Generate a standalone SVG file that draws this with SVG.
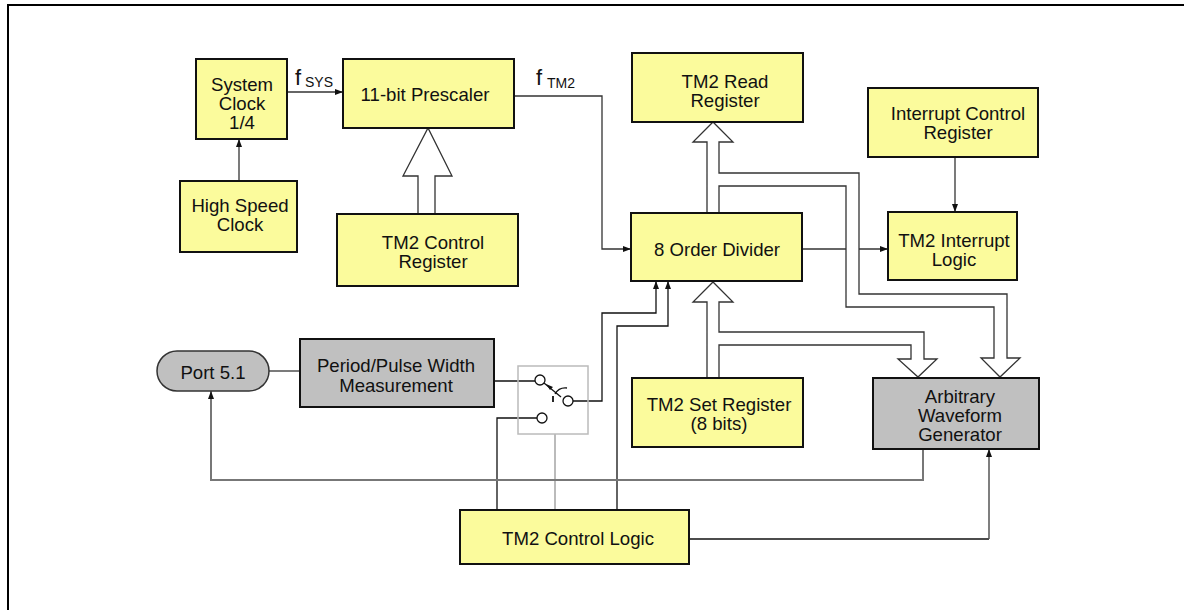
<svg xmlns="http://www.w3.org/2000/svg" width="1184" height="610" viewBox="0 0 1184 610">
<style>
.box{fill:#fbfb9c;stroke:#111;stroke-width:2}
.gbox{fill:#c0c0c0;stroke:#111;stroke-width:2}
.t{font-family:"Liberation Sans",Arial,sans-serif;font-size:18.6px;fill:#111;text-anchor:middle}
.w{fill:none;stroke:#333;stroke-width:1.3}
.k{fill:none;stroke:#111;stroke-width:1.3}
.g{fill:none;stroke:#777;stroke-width:2}
.lg{fill:none;stroke:#bbb;stroke-width:2}
.bus{fill:#fff;stroke:#333;stroke-width:1.3;stroke-linejoin:miter}
.sw{fill:#fff;stroke:#111;stroke-width:1.3}
</style>
<defs>
<marker id="a" markerWidth="9" markerHeight="7" refX="8" refY="3" orient="auto" markerUnits="userSpaceOnUse">
<path d="M0,0 L8,3 L0,6 z" fill="#111"/>
</marker>
</defs>
<rect width="1184" height="610" fill="#fff"/>
<path d="M8,610 L8,5 L1184,5" fill="none" stroke="#000" stroke-width="2"/>

<g id="connectors">
<path class="w" d="M287,92 H343" marker-end="url(#a)"/>
<path class="w" d="M239,181 V139" marker-end="url(#a)"/>
<path class="w" d="M514,96 H602 V249 H631" marker-end="url(#a)"/>
<path class="w" d="M955,157 V212" marker-end="url(#a)"/>
<path class="w" d="M802,249 H888" marker-end="url(#a)"/>
<path class="bus" d="M418,214 V176 H403 L428,128 L452,176 H435 V214"/>
<path class="bus" d="M707,213 V142 H693 L713,122 L733,142 H719 V173 H859 V294 H1007 V358 H1020 L1000,377 L981,358 H994 V307 H846 V186 H719 V213"/>
<path class="bus" d="M707,377 V302 H693 L713,282 L733,302 H719 V332 H924 V359 H937 L918,377 L898,359 H911 V345 H719 V377"/>
<path class="w" d="M269,371 H300"/>
<path class="k" d="M494,381 H535"/>
<path class="k" d="M573,401 H602 V313 H656 V281" marker-end="url(#a)"/>
<path class="k" d="M617,510 V326 H668 V281" marker-end="url(#a)"/>
<path class="k" d="M537,418 H497 V510"/>
<path class="lg" d="M555,434 V510"/>
<path class="g" d="M923,449 V480 H211 V391" marker-end="url(#a)"/>
<path class="k" d="M689,539 H989"/>
<path d="M989,539 V449" fill="none" stroke="#555" stroke-width="1.5" marker-end="url(#a)"/>
</g>

<g id="switch">
<rect x="518" y="366" width="70" height="68" fill="none" stroke="#bbb" stroke-width="1.5"/>
<path class="k" d="M544,383 L561,397"/>
<path d="M546,384 L553,387 L550,390 z" fill="#111"/>
<path class="k" d="M555,394 Q559,387 567,388"/>
<path d="M553,396 L553,402" fill="none" stroke="#111" stroke-width="1.8"/>
<circle class="sw" cx="540" cy="380" r="5"/>
<circle class="sw" cx="568" cy="401" r="5"/>
<circle class="sw" cx="542" cy="418" r="5"/>
</g>

<g id="system-clock">
<rect class="box" x="196" y="59" width="91" height="80"/>
<text class="t" x="242" y="91">System</text>
<text class="t" x="242" y="110">Clock</text>
<text class="t" x="242" y="129">1/4</text>
</g>
<g id="high-speed-clock">
<rect class="box" x="180" y="181" width="117" height="71"/>
<text class="t" x="240" y="212">High Speed</text>
<text class="t" x="240" y="231">Clock</text>
</g>
<g id="fsys-label">
<text font-family="Liberation Sans,Arial,sans-serif" font-size="22" x="295" y="85" fill="#111">f</text>
<text font-family="Liberation Sans,Arial,sans-serif" font-size="14" x="305" y="87" fill="#111">SYS</text>
</g>
<g id="ftm2-label">
<text font-family="Liberation Sans,Arial,sans-serif" font-size="22" x="536" y="85" fill="#111">f</text>
<text font-family="Liberation Sans,Arial,sans-serif" font-size="14" x="547" y="88" fill="#111">TM2</text>
</g>
<g id="prescaler">
<rect class="box" x="343" y="59" width="171" height="69"/>
<text class="t" x="425" y="101">11-bit Prescaler</text>
</g>
<g id="tm2-control-register">
<rect class="box" x="337" y="214" width="181" height="72"/>
<text class="t" x="433" y="249">TM2 Control</text>
<text class="t" x="433" y="268">Register</text>
</g>
<g id="tm2-read-register">
<rect class="box" x="632" y="53" width="171" height="69"/>
<text class="t" x="725" y="88">TM2 Read</text>
<text class="t" x="725" y="107">Register</text>
</g>
<g id="interrupt-control-register">
<rect class="box" x="868" y="88" width="170" height="69"/>
<text class="t" x="958" y="120">Interrupt Control</text>
<text class="t" x="958" y="139">Register</text>
</g>
<g id="divider">
<rect class="box" x="631" y="213" width="171" height="68"/>
<text class="t" x="717" y="256">8 Order Divider</text>
</g>
<g id="tm2-interrupt-logic">
<rect class="box" x="888" y="212" width="129" height="68"/>
<text class="t" x="954" y="247">TM2 Interrupt</text>
<text class="t" x="954" y="266">Logic</text>
</g>
<g id="port">
<rect x="157" y="351" width="112" height="40" rx="20" ry="20" fill="#c0c0c0" stroke="#333" stroke-width="1.5"/>
<text class="t" x="213" y="379">Port 5.1</text>
</g>
<g id="period-measurement">
<rect class="gbox" x="300" y="339" width="194" height="68"/>
<text class="t" x="396" y="372">Period/Pulse Width</text>
<text class="t" x="396" y="392">Measurement</text>
</g>
<g id="tm2-set-register">
<rect class="box" x="632" y="378" width="171" height="69"/>
<text class="t" x="719" y="411">TM2 Set Register</text>
<text class="t" x="719" y="430">(8 bits)</text>
</g>
<g id="awg">
<rect class="gbox" x="873" y="378" width="166" height="71"/>
<text class="t" x="960" y="403">Arbitrary</text>
<text class="t" x="960" y="422">Waveform</text>
<text class="t" x="960" y="441">Generator</text>
</g>
<g id="tm2-control-logic">
<rect class="box" x="460" y="510" width="229" height="54"/>
<text class="t" x="578" y="545">TM2 Control Logic</text>
</g>
</svg>
